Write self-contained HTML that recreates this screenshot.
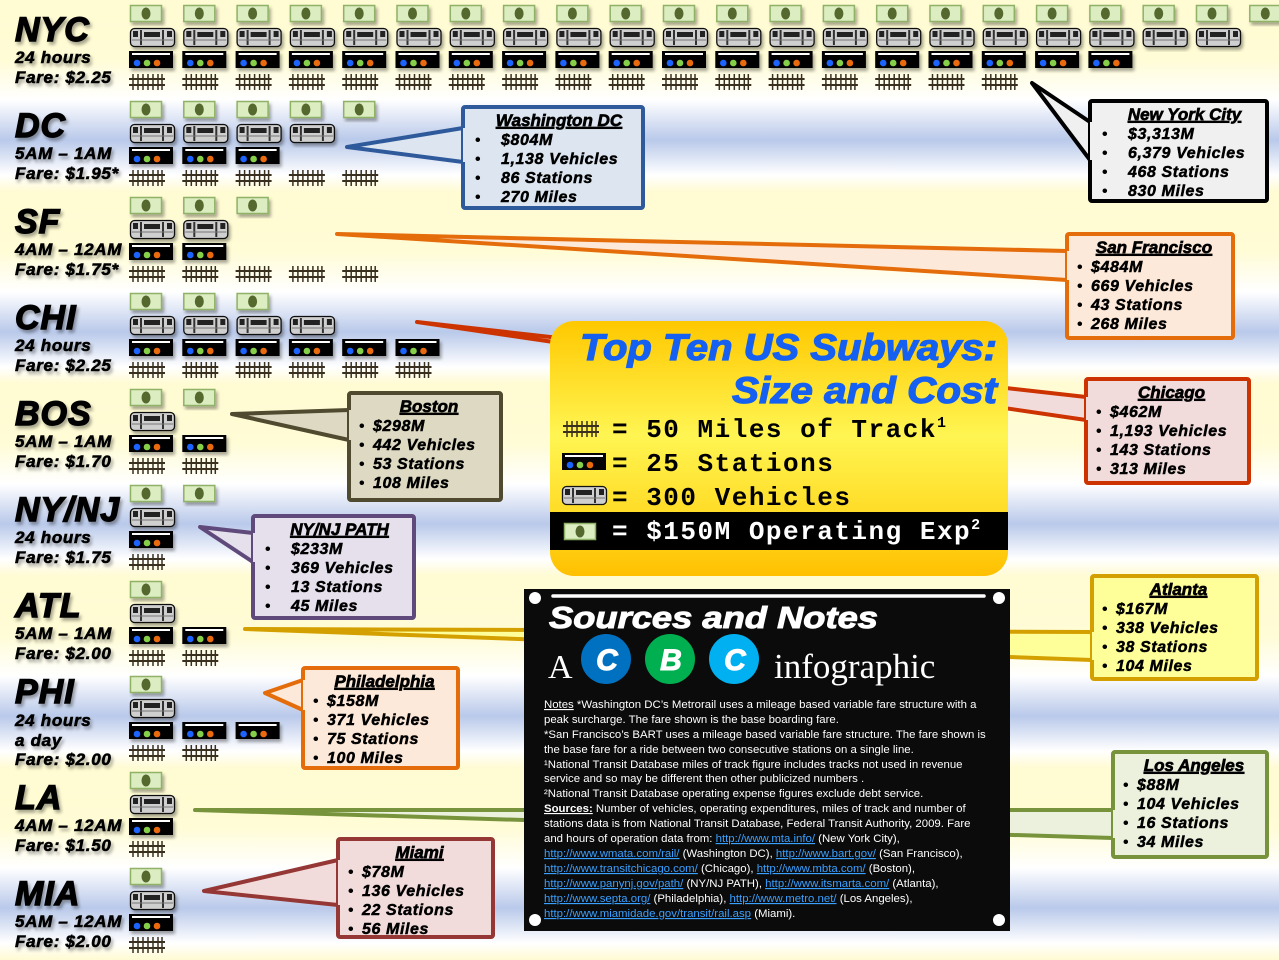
<!DOCTYPE html>
<html><head><meta charset="utf-8">
<style>
html,body{margin:0;padding:0;}
body{width:1279px;height:960px;overflow:hidden;position:relative;
background:repeating-linear-gradient(180deg,#fffbd2 0px,#fffcd6 60px,#ffffff 100px,#b9c9ea 140px,#ffffff 175px,#fffbd2 192px);
font-family:"Liberation Sans",sans-serif;}
svg{position:absolute;left:0;top:0;}
.city{font-weight:bold;font-style:italic;fill:#000;stroke:#000;}
</style></head><body>
<svg id="s" width="1279" height="960" xmlns="http://www.w3.org/2000/svg">
<defs>
<filter id="sh" x="-10%" y="-10%" width="130%" height="140%"><feDropShadow dx="2" dy="3" stdDeviation="1.5" flood-color="#000" flood-opacity="0.35"/></filter>
<linearGradient id="tg" x1="0" y1="0" x2="0" y2="1">
<stop offset="0" stop-color="#ffc800"/><stop offset="0.45" stop-color="#fff552"/><stop offset="0.8" stop-color="#ffd820"/><stop offset="1" stop-color="#ffc000"/></linearGradient>
<g id="money"><rect x="0.5" y="0.5" width="31" height="16" fill="#dcedc2" stroke="#8fb266" stroke-width="1.5"/><ellipse cx="16" cy="8.5" rx="4.5" ry="6" fill="#55692e"/></g>
<g id="train"><rect x="0.5" y="0.5" width="44" height="18" rx="4" fill="#cfcfcf" stroke="#111" stroke-width="1.3"/><rect x="3" y="3" width="5" height="6" fill="#222"/><rect x="10" y="2" width="2" height="15" fill="#333"/><rect x="14" y="4" width="16" height="5" fill="#222"/><rect x="32" y="2" width="2" height="15" fill="#333"/><rect x="37" y="3" width="5" height="6" fill="#222"/><line x1="2" y1="12" x2="43" y2="12" stroke="#777"/></g>
<g id="stat"><rect x="0" y="0" width="44" height="17" fill="#050505"/><rect x="3" y="2" width="38" height="2" fill="#fff"/><circle cx="8" cy="12" r="3.3" fill="#1a63ff"/><circle cx="18" cy="12" r="3.3" fill="#86d04a"/><circle cx="28" cy="12" r="3.3" fill="#ea6a0c"/></g>
<g id="track" stroke="#3a3020" stroke-width="1.5"><line x1="0" y1="6" x2="36" y2="6" stroke-width="2"/><line x1="0" y1="12" x2="36" y2="12" stroke-width="2"/><line x1="4" y1="1" x2="4" y2="17"/><line x1="9" y1="1" x2="9" y2="17"/><line x1="14" y1="1" x2="14" y2="17"/><line x1="19" y1="1" x2="19" y2="17"/><line x1="24" y1="1" x2="24" y2="17"/><line x1="29" y1="1" x2="29" y2="17"/><line x1="33" y1="1" x2="33" y2="17"/></g>
</defs>
<g id="icons"></g>
<g id="labels"></g>
<g id="callouts"></g>
<!-- title box -->
<rect x="550" y="321" width="458" height="255" rx="24" fill="url(#tg)"/>
<text x="580" y="360" textLength="417" lengthAdjust="spacingAndGlyphs" font-size="37" font-weight="bold" font-style="italic" fill="#1560f0" stroke="#1560f0" stroke-width="1.2">Top Ten US Subways:</text>
<text x="732" y="403" textLength="265" lengthAdjust="spacingAndGlyphs" font-size="37" font-weight="bold" font-style="italic" fill="#1560f0" stroke="#1560f0" stroke-width="1.2">Size and Cost</text>
<use href="#track" x="563" y="420"/>
<use href="#stat" x="562" y="453"/>
<use href="#train" x="562" y="486"/>
<rect x="550" y="512" width="458" height="38" fill="#000"/>
<use href="#money" x="564" y="523"/>
<g font-family="Liberation Mono,monospace" font-weight="bold" font-size="26" letter-spacing="1.5">
<text x="612" y="437" fill="#000">= 50 Miles of Track<tspan font-size="15" dy="-10">1</tspan></text>
<text x="612" y="471" fill="#000">= 25 Stations</text>
<text x="612" y="505" fill="#000">= 300 Vehicles</text>
<text x="612" y="539" fill="#fff">= $150M Operating Exp<tspan font-size="15" dy="-10">2</tspan></text>
</g>
<!-- sources -->
<rect x="524" y="589" width="486" height="342" fill="#0b0b0b"/>
<circle cx="535" cy="598" r="6" fill="#fff"/><circle cx="999" cy="598" r="6" fill="#fff"/>
<circle cx="535" cy="920" r="6" fill="#fff"/><circle cx="999" cy="920" r="6" fill="#fff"/>
<line x1="553" y1="596" x2="984" y2="596" stroke="#fff" stroke-width="3.5" stroke-linecap="round"/>
<text x="549" y="628" textLength="329" lengthAdjust="spacingAndGlyphs" font-size="31" font-weight="bold" font-style="italic" fill="#fff" stroke="#fff" stroke-width="1">Sources and Notes</text>
<text x="548" y="678" font-family="Liberation Serif,serif" font-size="34" fill="#fff">A</text>
<circle cx="606" cy="659" r="25" fill="#0070c0"/><circle cx="670" cy="659" r="25" fill="#00b050"/><circle cx="734" cy="659" r="25" fill="#00b0f0"/>
<g font-size="30" font-weight="bold" font-style="italic" fill="#fff" text-anchor="middle" stroke="#fff" stroke-width="1"><text x="607" y="670">C</text><text x="671" y="670">B</text><text x="735" y="670">C</text></g>
<text x="774" y="678" font-family="Liberation Serif,serif" font-size="35" fill="#fff">infographic</text>
<g font-size="11.4" fill="#fff" id="notes">
<text x="544" y="708"><tspan text-decoration="underline">Notes</tspan> *Washington DC’s Metrorail uses a mileage based variable fare structure with a</text>
<text x="544" y="723">peak surcharge.  The fare shown is the base boarding fare.</text>
<text x="544" y="738">*San Francisco’s BART uses a mileage based variable fare structure.  The fare shown is</text>
<text x="544" y="753">the base fare for a ride between two consecutive stations on a single line.</text>
<text x="544" y="768">¹National Transit Database miles of track figure includes tracks not used in revenue</text>
<text x="544" y="782">service and so may be different then other publicized numbers .</text>
<text x="544" y="797">²National Transit Database operating expense figures exclude debt service.</text>
<text x="544" y="812"><tspan text-decoration="underline" font-weight="bold">Sources:</tspan> Number of vehicles, operating expenditures, miles of track and number of</text>
<text x="544" y="827">stations data is from National Transit Database, Federal Transit Authority, 2009.  Fare</text>
<text x="544" y="842">and hours of operation data from: <tspan fill="#3aa0ff" text-decoration="underline">http://www.mta.info/</tspan> (New York City),</text>
<text x="544" y="857"><tspan fill="#3aa0ff" text-decoration="underline">http://www.wmata.com/rail/</tspan> (Washington DC), <tspan fill="#3aa0ff" text-decoration="underline">http://www.bart.gov/</tspan> (San Francisco),</text>
<text x="544" y="872"><tspan fill="#3aa0ff" text-decoration="underline">http://www.transitchicago.com/</tspan> (Chicago), <tspan fill="#3aa0ff" text-decoration="underline">http://www.mbta.com/</tspan> (Boston),</text>
<text x="544" y="887"><tspan fill="#3aa0ff" text-decoration="underline">http://www.panynj.gov/path/</tspan> (NY/NJ PATH), <tspan fill="#3aa0ff" text-decoration="underline">http://www.itsmarta.com/</tspan> (Atlanta),</text>
<text x="544" y="902"><tspan fill="#3aa0ff" text-decoration="underline">http://www.septa.org/</tspan> (Philadelphia), <tspan fill="#3aa0ff" text-decoration="underline">http://www.metro.net/</tspan> (Los Angeles),</text>
<text x="544" y="917"><tspan fill="#3aa0ff" text-decoration="underline">http://www.miamidade.gov/transit/rail.asp</tspan> (Miami).</text>
</g>
</svg>
<script>
var NS="http://www.w3.org/2000/svg";
function el(t,a,p,txt){var e=document.createElementNS(NS,t);for(var k in a)e.setAttribute(k,a[k]);if(txt!==undefined)e.textContent=txt;(p||document.getElementById('s')).appendChild(e);return e;}
var rows=[
["NYC",["24 hours","Fare: $2.25"],22,21,19,17],
["DC",["5AM – 1AM","Fare: $1.95*"],5,4,3,5],
["SF",["4AM – 12AM","Fare: $1.75*"],3,2,2,5],
["CHI",["24 hours","Fare: $2.25"],3,4,6,6],
["BOS",["5AM – 1AM","Fare: $1.70"],2,1,2,2],
["NY/NJ",["24 hours","Fare: $1.75"],2,1,1,1],
["ATL",["5AM – 1AM","Fare: $2.00"],1,1,2,2],
["PHI",["24 hours","a day","Fare: $2.00"],1,1,3,2],
["LA",["4AM – 12AM","Fare: $1.50"],1,1,1,1],
["MIA",["5AM – 12AM","Fare: $2.00"],1,1,1,1]];
var ic=document.getElementById('icons'),lb=document.getElementById('labels');
rows.forEach(function(r,i){
 var t=96*i, dx=53.3, off=(i>=7)?-1:0;
 for(var j=0;j<r[2];j++)el('use',{href:'#money',x:130+j*dx,y:t+5+off,filter:'url(#sh)'},ic);
 for(var j=0;j<r[3];j++)el('use',{href:'#train',x:130+j*dx,y:t+28+off,filter:'url(#sh)'},ic);
 for(var j=0;j<r[4];j++)el('use',{href:'#stat',x:129+j*dx,y:t+51+off,filter:'url(#sh)'},ic);
 for(var j=0;j<r[5];j++)el('use',{href:'#track',x:129+j*dx,y:t+73+off},ic);
 el('text',{x:15,y:t+41,'font-size':34,'class':'city','stroke-width':1.4,filter:'url(#sh)','letter-spacing':'1'},lb,r[0]);
 var ys=r[1].length==3?[t+54,t+74,t+93]:[t+63,t+83];
 if(i==7)ys=[726,746,765];
 if(i==7) lb.lastChild.setAttribute('y',703);
 r[1].forEach(function(s,k){el('text',{x:15,y:ys[k],'font-size':17,'class':'city','stroke-width':0.6,filter:'url(#sh)','letter-spacing':'0.7'},lb,s);});
});
var cg=document.getElementById('callouts');
var C=[
["Washington DC",463,107,180,101,"#2e5a9c","#dde5f0","463,128 347,147 463,162",["$804M","1,138 Vehicles","86 Stations","270 Miles"],1],
["New York City",1090,101,177,100,"#000","#f0f0f0","1090,122 1032,83 1090,160",["$3,313M","6,379 Vehicles","468 Stations","830 Miles"],1],
["San Francisco",1067,234,166,104,"#e46c0a","#fde9d9","1067,251 337,234 1067,280",["$484M","669 Vehicles","43 Stations","268 Miles"],0],
["Chicago",1086,379,163,104,"#cc3300","#f2dcdb","1086,397 417,322 1086,420",["$462M","1,193 Vehicles","143 Stations","313 Miles"],0],
["Boston",349,393,152,107,"#4f4a30","#ddd9c3","349,410 232,414 349,440",["$298M","442 Vehicles","53 Stations","108 Miles"],0],
["NY/NJ PATH",253,516,161,102,"#604a7b","#e5e0ec","253,533 200,527 253,562",["$233M","369 Vehicles","13 Stations","45 Miles"],1],
["Atlanta",1092,576,165,103,"#d4a000","#ffff99","1092,632 245,629 1092,660",["$167M","338 Vehicles","38 Stations","104 Miles"],0],
["Philadelphia",303,668,155,100,"#e46c0a","#fde9d9","303,680 265,693 303,710",["$158M","371 Vehicles","75 Stations","100 Miles"],0],
["Los Angeles",1113,752,154,105,"#77933c","#ebf1dd","1113,810 195,810 1113,838",["$88M","104 Vehicles","16 Stations","34 Miles"],0],
["Miami",338,839,155,98,"#953735","#f2dcdb","338,860 204,891 338,905",["$78M","136 Vehicles","22 Stations","56 Miles"],0]];
C.forEach(function(c){
 var x=c[1],y=c[2],w=c[3],h=c[4];
 el('polygon',{points:c[7],fill:c[6],stroke:c[5],'stroke-width':4,'stroke-linejoin':'round'},cg);
 el('rect',{x:x,y:y,width:w,height:h,fill:c[6],stroke:c[5],'stroke-width':4,rx:2},cg);
 var pts=c[7].split(' ');
 el('polygon',{points:pts[0]+' '+(x+6)+','+pts[0].split(',')[1]+' '+(x+6)+','+pts[2].split(',')[1]+' '+pts[2],fill:c[6]},cg);
 el('text',{x:x+w/2+(c[9]?6:4),y:y+19,'font-size':17,'font-weight':'bold','font-style':'italic','text-anchor':'middle','text-decoration':'underline',stroke:'#000','stroke-width':0.7},cg,c[0]);
 var ind=c[9]?12:10, tx=c[9]?38:24;
 c[8].forEach(function(s,k){
  el('text',{x:x+ind,y:y+38+k*19,'font-size':16,'font-weight':'bold'},cg,'•');
  el('text',{x:x+tx,y:y+38+k*19,'font-size':16,'font-weight':'bold','font-style':'italic','letter-spacing':'0.6',stroke:'#000','stroke-width':0.5},cg,s);
 });
});
</script>
</body></html>
